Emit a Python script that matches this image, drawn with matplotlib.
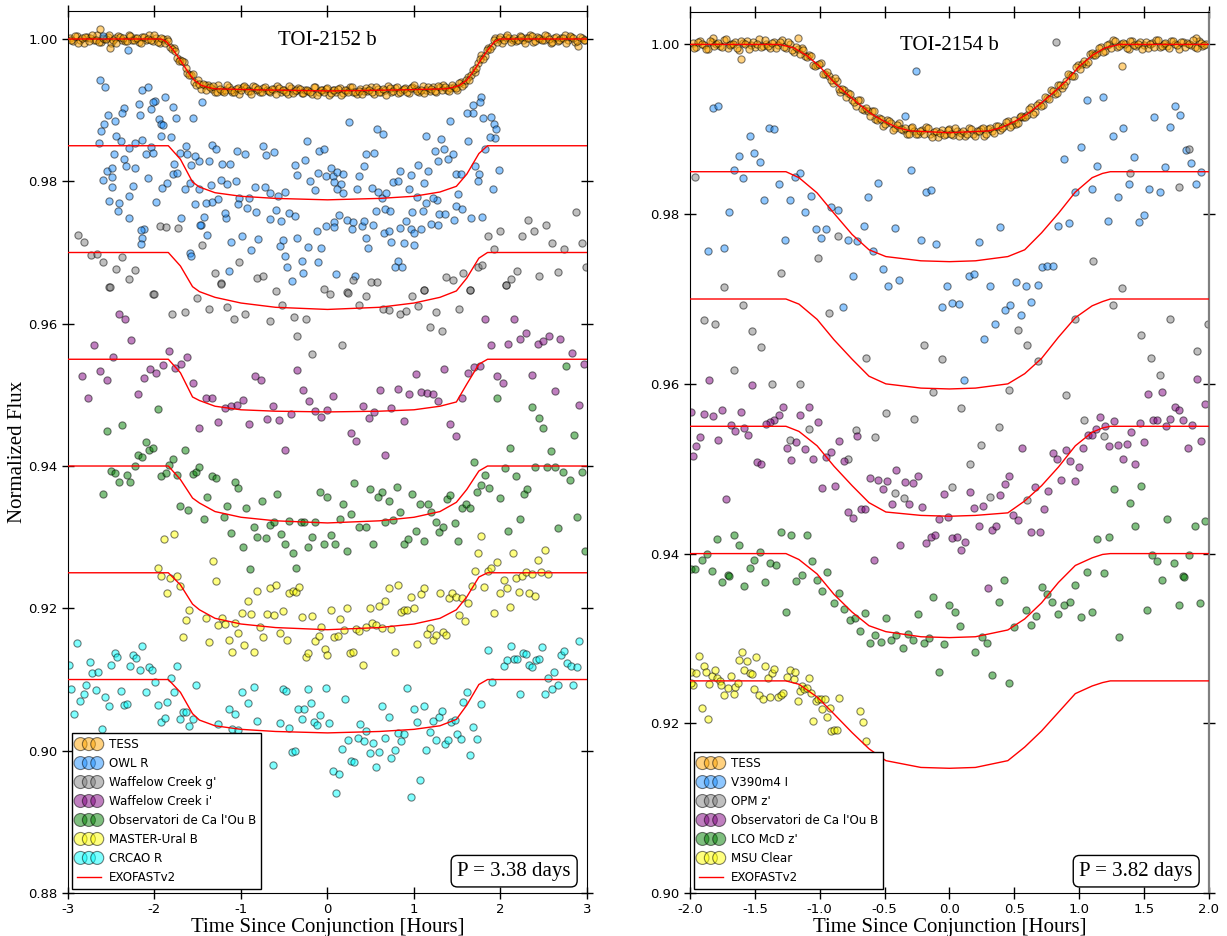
import numpy as np
import matplotlib.pyplot as plt

# ---------------- TOI-2152 b (left panel) ----------------
tess_l = [(-2.98,1.0002),(-2.94,0.9997),(-2.90,1.0004),(-2.86,0.9999),(-2.82,0.9995),(-2.78,1.0003),(-2.74,1.0001),(-2.70,0.9998),(-2.66,1.0005),(-2.62,0.9996),(-2.58,1.0000),(-2.54,1.0003),(-2.50,0.9994),(-2.46,1.0002),(-2.42,1.0004),(-2.38,0.9999),(-2.34,0.9997),(-2.30,1.0006),(-2.26,0.9998),(-2.22,1.0001),(-2.18,0.9996),(-2.14,1.0003),(-2.10,0.9999),(-2.06,1.0005),(-2.02,0.9997),(-1.98,1.0002),(-1.94,0.9995),(-1.90,1.0000),(-1.86,1.0000),(-1.82,0.9989),(-1.78,0.9987),(-1.74,0.9973),(-1.70,0.9970),(-1.66,0.9968),(-1.62,0.9952),(-1.58,0.9949),(-1.54,0.9940),(-1.50,0.9942),(-1.46,0.9930),(-1.42,0.9935),(-1.38,0.9935),(-1.34,0.9930),(-1.30,0.9926),(-1.26,0.9935),(-1.22,0.9927),(-1.18,0.9929),(-1.14,0.9932),(-1.10,0.9926),(-1.06,0.9930),(-1.02,0.9923),(-0.98,0.9933),(-0.94,0.9931),(-0.90,0.9927),(-0.86,0.9934),(-0.82,0.9928),(-0.78,0.9925),(-0.74,0.9931),(-0.70,0.9928),(-0.66,0.9925),(-0.62,0.9930),(-0.58,0.9934),(-0.54,0.9926),(-0.50,0.9929),(-0.46,0.9923),(-0.42,0.9931),(-0.38,0.9927),(-0.34,0.9931),(-0.30,0.9924),(-0.26,0.9929),(-0.22,0.9927),(-0.18,0.9923),(-0.14,0.9932),(-0.10,0.9925),(-0.06,0.9928),(-0.02,0.9930),(0.02,0.9921),(0.06,0.9929),(0.10,0.9926),(0.14,0.9931),(0.18,0.9924),(0.22,0.9928),(0.26,0.9932),(0.30,0.9925),(0.34,0.9923),(0.38,0.9930),(0.42,0.9927),(0.46,0.9927),(0.50,0.9932),(0.54,0.9923),(0.58,0.9930),(0.62,0.9925),(0.66,0.9929),(0.70,0.9934),(0.74,0.9926),(0.78,0.9931),(0.82,0.9924),(0.86,0.9929),(0.90,0.9931),(0.94,0.9924),(0.98,0.9933),(1.02,0.9930),(1.06,0.9926),(1.10,0.9934),(1.14,0.9928),(1.18,0.9927),(1.22,0.9932),(1.26,0.9926),(1.30,0.9932),(1.34,0.9936),(1.38,0.9928),(1.42,0.9931),(1.46,0.9933),(1.50,0.9928),(1.54,0.9939),(1.58,0.9937),(1.62,0.9946),(1.66,0.9949),(1.70,0.9953),(1.74,0.9966),(1.78,0.9977),(1.82,0.9976),(1.86,0.9987),(1.90,0.9990),(1.94,1.0001),(1.98,1.0000),(2.02,0.9995),(2.06,1.0003),(2.10,1.0002),(2.14,0.9999),(2.18,0.9997),(2.22,1.0004),(2.26,0.9998),(2.30,1.0001),(2.34,1.0005),(2.38,0.9996),(2.42,1.0003),(2.46,1.0000),(2.50,0.9998),(2.54,1.0004),(2.58,0.9995),(2.62,1.0002),(2.66,0.9997),(2.70,1.0001),(2.74,1.0006),(2.78,0.9999),(2.82,1.0003),(2.86,0.9996),(2.90,0.9990),(2.94,1.0002),(2.98,0.9999),(-2.63,1.0014),(-2.51,0.9987),
          (-2.96,0.9998),(-2.92,1.0004),(-2.88,0.9995),(-2.84,1.0001),(-2.80,1.0003),(-2.76,0.9997),(-2.72,1.0006),(-2.68,0.9999),(-2.64,0.9996),(-2.60,1.0002),(-2.56,1.0000),(-2.52,1.0005),(-2.48,0.9998),(-2.44,0.9994),(-2.40,1.0003),(-2.36,1.0001),(-2.32,0.9997),(-2.28,1.0004),(-2.24,0.9999),(-2.20,1.0002),(-2.16,0.9995),(-2.12,1.0003),(-2.08,1.0000),(-2.04,0.9998),(-2.00,1.0006),(-1.96,0.9996),(-1.92,1.0001),(-1.88,0.9995),(-1.84,0.9997),(-1.80,0.9986),(-1.76,0.9983),(-1.72,0.9969),(-1.68,0.9969),(-1.64,0.9959),(-1.60,0.9950),(-1.56,0.9951),(-1.52,0.9936),(-1.48,0.9937),(-1.44,0.9937),(-1.40,0.9929),(-1.36,0.9933),(-1.32,0.9934),(-1.28,0.9925),(-1.24,0.9930),(-1.20,0.9926),(-1.16,0.9935),(-1.12,0.9928),(-1.08,0.9925),(-1.04,0.9931),(-1.00,0.9929),(-0.96,0.9934),(-0.92,0.9927),(-0.88,0.9923),(-0.84,0.9932),(-0.80,0.9930),(-0.76,0.9925),(-0.72,0.9932),(-0.68,0.9927),(-0.64,0.9930),(-0.60,0.9923),(-0.56,0.9931),(-0.52,0.9928),(-0.48,0.9926),(-0.44,0.9934),(-0.40,0.9924),(-0.36,0.9928),(-0.32,0.9930),(-0.28,0.9924),(-0.24,0.9929),(-0.20,0.9926),(-0.16,0.9932),(-0.12,0.9921),(-0.08,0.9929),(-0.04,0.9925),(0.00,0.9931),(0.04,0.9924),(0.08,0.9928),(0.12,0.9930),(0.16,0.9922),(0.20,0.9929),(0.24,0.9926),(0.28,0.9933),(0.32,0.9925),(0.36,0.9927),(0.40,0.9923),(0.44,0.9931),(0.48,0.9929),(0.52,0.9925),(0.56,0.9933),(0.60,0.9926),(0.64,0.9930),(0.68,0.9922),(0.72,0.9931),(0.76,0.9927),(0.80,0.9932),(0.84,0.9926),(0.88,0.9930),(0.92,0.9925),(0.96,0.9931),(1.00,0.9935),(1.04,0.9927),(1.08,0.9929),(1.12,0.9924),(1.16,0.9932),(1.20,0.9930),(1.24,0.9927),(1.28,0.9934),(1.32,0.9928),(1.36,0.9932),(1.40,0.9927),(1.44,0.9935),(1.48,0.9931),(1.52,0.9938),(1.56,0.9934),(1.60,0.9943),(1.64,0.9943),(1.68,0.9956),(1.72,0.9959),(1.76,0.9972),(1.80,0.9972),(1.84,0.9985),(1.88,0.9986),(1.92,0.9998),(1.96,0.9996),(2.00,1.0003),(2.04,0.9998),(2.08,1.0005),(2.12,0.9996),(2.16,1.0001),(2.20,0.9999),(2.24,1.0003),(2.28,0.9994),(2.32,1.0002),(2.36,1.0004),(2.40,0.9997),(2.44,1.0001),(2.48,0.9998),(2.52,1.0005),(2.56,1.0000),(2.60,0.9996),(2.64,1.0003),(2.68,0.9999),(2.72,1.0002),(2.76,0.9995),(2.80,1.0004),(2.84,1.0001),(2.88,0.9997),(2.92,1.0003),(2.96,0.9998)]

owl_r = [(-2.59,1.0004),(-2.31,0.9984),(-2.63,0.9942),(-2.57,0.9933),(-2.15,0.9929),(-2.08,0.9932),(-1.88,0.9919),(-1.99,0.9913),(-2.02,0.9912),(-2.18,0.9909),(-2.35,0.9903),(-2.37,0.9896),(-2.54,0.9893),(-2.58,0.9881),(-2.62,0.9871),(-2.46,0.9885),(-2.17,0.9893),(-2.04,0.9901),(-1.95,0.9888),(-1.92,0.9881),(-1.90,0.9879),(-1.75,0.9889),(-1.79,0.9905),(-1.56,0.9889),(-1.45,0.9911),(-1.93,0.9864),(-1.81,0.9862),(-2.45,0.9864),(-2.39,0.9856),(-2.64,0.9854),(-2.29,0.9847),(-2.22,0.9854),(-2.14,0.9858),(-2.04,0.9848),(-2.47,0.9838),(-2.35,0.9831),(-2.33,0.9822),(-2.22,0.9819),(-2.10,0.9838),(-2.02,0.9840),(-2.55,0.9814),(-2.49,0.9819),(-2.60,0.9802),(-2.49,0.9806),(-2.49,0.9792),(-2.25,0.9793),(-2.07,0.9805),(-2.53,0.9773),(-2.41,0.9770),(-2.42,0.9758),(-2.30,0.9779),(-2.29,0.9749),(-1.98,0.9771),(-1.91,0.9790),(-1.86,0.9798),(-1.79,0.9811),(-1.74,0.9812),(-1.77,0.9824),(-1.70,0.9840),(-1.62,0.9838),(-1.64,0.9850),(-1.58,0.9823),(-1.49,0.9828),(-1.53,0.9836),(-1.33,0.9851),(-1.29,0.9845),(-1.37,0.9828),(-1.22,0.9825),(-1.13,0.9824),(-1.05,0.9843),(-0.95,0.9839),(-0.75,0.9850),(-0.71,0.9837),(-0.62,0.9841),(-1.59,0.9798),(-1.65,0.9789),(-1.48,0.9789),(-1.35,0.9795),(-1.23,0.9802),(-1.16,0.9796),(-1.06,0.9801),(-0.84,0.9792),(-0.72,0.9792),(-0.91,0.9776),(-1.02,0.9777),(-1.03,0.9768),(-1.27,0.9775),(-1.34,0.9771),(-1.53,0.9768),(-1.40,0.9770),(-1.43,0.9750),(-1.46,0.9738),(-1.17,0.9749),(-1.19,0.9756),(-0.93,0.9763),(-0.83,0.9757),(-0.66,0.9783),(-0.57,0.9780),(-0.49,0.9785),(-0.59,0.9760),(-0.67,0.9747),(-0.54,0.9744),(-0.45,0.9756),(-0.38,0.9751),(-0.35,0.9809),(-0.37,0.9823),(-0.26,0.9830),(-0.24,0.9857),(-0.10,0.9843),(-0.04,0.9846),(-0.11,0.9812),(-0.20,0.9800),(-0.14,0.9788),(-0.02,0.9808),(0.04,0.9819),(0.06,0.9807),(0.11,0.9813),(0.08,0.9799),(0.18,0.9810),(0.16,0.9796),(0.11,0.9789),(0.18,0.9784),(0.34,0.9789),(0.37,0.9808),(0.42,0.9822),(0.44,0.9839),(0.54,0.9840),(0.51,0.9791),(0.58,0.9785),(0.63,0.9776),(0.68,0.9783),(0.76,0.9799),(0.82,0.9800),(0.84,0.9814),(0.94,0.9789),(0.96,0.9809),(1.05,0.9823),(1.16,0.9814),(1.12,0.9798),(1.24,0.9843),(1.28,0.9828),(1.31,0.9860),(1.35,0.9845),(1.39,0.9831),(1.45,0.9838),(1.14,0.9863),(1.49,0.9810),(1.54,0.9810),(1.51,0.9782),(1.62,0.9857),(1.71,0.9822),(1.75,0.9810),(1.74,0.9800),(1.68,0.9896),(1.61,0.9896),(1.68,0.9907),(1.78,0.9919),(1.76,0.9912),(1.80,0.9889),(1.89,0.9890),(1.92,0.9881),(1.95,0.9873),(1.94,0.9861),(1.88,0.9862),(1.82,0.9846),(1.91,0.9789),(1.98,0.9816),(1.42,0.9885),(0.25,0.9884),(0.57,0.9874),(0.64,0.9867),(1.79,0.9750),(1.66,0.9749),(-1.69,0.9748),(-1.47,0.9739),(-1.39,0.9724),(-1.12,0.9715),(-0.99,0.9723),(-0.80,0.9719),(-0.88,0.9704),(-0.55,0.9709),(-0.51,0.9718),(-0.35,0.9720),(-0.23,0.9708),(-0.07,0.9706),(-0.12,0.9730),(-0.02,0.9737),(0.07,0.9743),(0.13,0.9752),(0.08,0.9736),(0.23,0.9746),(0.30,0.9743),(0.28,0.9733),(0.40,0.9737),(0.42,0.9744),(0.53,0.9738),(0.47,0.9706),(0.45,0.9721),(0.56,0.9758),(0.66,0.9761),(0.72,0.9758),(0.65,0.9727),(0.71,0.9730),(0.74,0.9715),(0.84,0.9734),(0.89,0.9713),(0.91,0.9744),(0.96,0.9733),(1.00,0.9728),(1.08,0.9733),(1.00,0.9711),(1.10,0.9758),(0.98,0.9757),(1.20,0.9740),(1.28,0.9738),(1.29,0.9754),(1.36,0.9754),(1.46,0.9746),(1.27,0.9774),(1.14,0.9769),(1.03,0.9778),(1.22,0.9777),(1.48,0.9766),(1.56,0.9761),(-2.12,0.9733),(-2.16,0.9731),(-2.14,0.9720),(-2.16,0.9712),(-1.59,0.9700),(-1.58,0.9695),(0.82,0.9688),(0.78,0.9680),(0.86,0.9680),(-0.49,0.9695),(-0.29,0.9688),(-0.28,0.9671),(-0.11,0.9687),(-0.47,0.9679),(-0.41,0.9660),(0.10,0.9670),(0.32,0.9667),(-1.14,0.9674)]

waffelow_g = [(-2.88,0.9725),(-2.81,0.9715),(-2.73,0.9696),(-2.66,0.9698),(-2.59,0.9687),(-2.52,0.9652),(-2.44,0.9677),(-2.37,0.9694),(-2.30,0.9663),(-2.23,0.9675),(-2.02,0.9641),(-1.94,0.9737),(-1.87,0.9736),(-1.73,0.9735),(-1.45,0.9711),(-1.30,0.9671),(-1.23,0.9657),(-1.02,0.9687),(-0.81,0.9664),(-0.74,0.9667),(-0.04,0.9649),(0.03,0.9642),(0.23,0.9644),(0.30,0.9662),(0.50,0.9659),(0.57,0.9659),(1.11,0.9648),(1.37,0.9665),(1.45,0.9662),(1.57,0.9671),(1.65,0.9648),(1.74,0.9679),(1.79,0.9682),(1.85,0.9723),(1.92,0.9705),(1.99,0.9730),(2.06,0.9655),(2.12,0.9663),(2.19,0.9674),(2.25,0.9723),(2.32,0.9746),(2.39,0.9730),(2.45,0.9667),(2.53,0.9739),(2.59,0.9713),(2.66,0.9672),(2.73,0.9705),(2.87,0.9757),(2.94,0.9714),(2.99,0.9679),(-2.51,0.9652),(-2.01,0.9641),(-1.80,0.9614),(-1.65,0.9617),(-1.51,0.9636),(-1.37,0.9621),(-1.23,0.9656),(-1.16,0.9623),(-1.08,0.9606),(-0.95,0.9613),(-0.67,0.9604),(-0.60,0.9646),(-0.53,0.9626),(-0.39,0.9610),(-0.35,0.9583),(-0.25,0.9606),(-0.18,0.9557),(0.17,0.9570),(0.24,0.9643),(0.37,0.9626),(0.44,0.9639),(0.64,0.9621),(0.71,0.9619),(0.84,0.9614),(0.91,0.9618),(0.98,0.9639),(1.05,0.9625),(1.12,0.9647),(1.18,0.9596),(1.25,0.9617),(1.32,0.9590),(1.52,0.9620),(1.65,0.9648),(2.06,0.9654)]

waffelow_i = [(-2.84,0.9526),(-2.77,0.9496),(-2.70,0.9570),(-2.63,0.9533),(-2.55,0.9521),(-2.48,0.9553),(-2.41,0.9614),(-2.34,0.9607),(-2.27,0.9577),(-2.19,0.9501),(-2.12,0.9524),(-2.05,0.9537),(-1.98,0.9530),(-1.90,0.9542),(-1.83,0.9561),(-1.76,0.9538),(-1.69,0.9543),(-1.62,0.9553),(-1.55,0.9517),(-1.48,0.9453),(-1.41,0.9495),(-1.34,0.9496),(-1.27,0.9462),(-1.19,0.9481),(-1.12,0.9484),(-1.05,0.9486),(-0.98,0.9493),(-0.91,0.9459),(-0.84,0.9526),(-0.77,0.9521),(-0.70,0.9466),(-0.63,0.9484),(-0.56,0.9464),(-0.49,0.9423),(-0.42,0.9473),(-0.35,0.9535),(-0.28,0.9507),(-0.21,0.9492),(-0.14,0.9477),(-0.07,0.9469),(0.00,0.9478),(0.06,0.9498),(0.27,0.9447),(0.33,0.9435),(0.41,0.9485),(0.48,0.9467),(0.54,0.9476),(0.61,0.9507),(0.67,0.9416),(0.74,0.9482),(0.81,0.9508),(0.88,0.9463),(0.94,0.9501),(1.02,0.9529),(1.08,0.9504),(1.15,0.9502),(1.22,0.9501),(1.28,0.9492),(1.35,0.9537),(1.42,0.9459),(1.49,0.9442),(1.55,0.9495),(1.62,0.9530),(1.69,0.9539),(1.76,0.9540),(1.82,0.9606),(1.89,0.9570),(1.96,0.9527),(2.03,0.9517),(2.09,0.9571),(2.16,0.9606),(2.23,0.9578),(2.29,0.9587),(2.36,0.9528),(2.43,0.9572),(2.49,0.9576),(2.56,0.9582),(2.63,0.9505),(2.69,0.9579),(2.83,0.9559),(2.91,0.9486),(2.97,0.9543)]

caou_l = [(-1.96,0.9480),(-2.55,0.9449),(-2.37,0.9457),(-2.10,0.9434),(-2.19,0.9415),(-2.15,0.9413),(-2.06,0.9423),(-2.02,0.9426),(-1.65,0.9423),(-1.79,0.9410),(-1.83,0.9402),(-2.23,0.9400),(-2.50,0.9393),(-2.46,0.9390),(-2.32,0.9387),(-2.41,0.9377),(-2.28,0.9377),(-2.59,0.9360),(-1.92,0.9386),(-1.87,0.9390),(-1.74,0.9388),(-1.56,0.9389),(-1.52,0.9392),(-1.48,0.9398),(-1.34,0.9386),(-1.29,0.9383),(-1.07,0.9378),(-1.03,0.9369),(-1.39,0.9356),(-1.70,0.9344),(-1.61,0.9338),(-1.43,0.9325),(-1.16,0.9344),(-1.20,0.9328),(-0.94,0.9341),(-1.12,0.9306),(-0.98,0.9286),(-0.89,0.9255),(-0.85,0.9315),(-0.81,0.9300),(-0.71,0.9299),(-0.76,0.9351),(-0.67,0.9317),(-0.62,0.9322),(-0.58,0.9361),(-0.54,0.9304),(-0.49,0.9291),(-0.45,0.9323),(-0.40,0.9278),(-0.36,0.9257),(-0.31,0.9321),(-0.27,0.9321),(-0.23,0.9286),(-0.18,0.9300),(-0.14,0.9321),(-0.09,0.9363),(-0.04,0.9290),(0.00,0.9357),(0.04,0.9303),(0.09,0.9291),(0.14,0.9326),(0.18,0.9346),(0.22,0.9280),(0.27,0.9333),(0.31,0.9376),(0.36,0.9314),(0.44,0.9314),(0.49,0.9367),(0.53,0.9290),(0.58,0.9357),(0.63,0.9364),(0.67,0.9321),(0.71,0.9351),(0.76,0.9324),(0.80,0.9371),(0.84,0.9336),(0.89,0.9291),(0.93,0.9298),(0.98,0.9360),(1.02,0.9309),(1.07,0.9347),(1.11,0.9294),(1.16,0.9347),(1.20,0.9336),(1.25,0.9322),(1.29,0.9307),(1.33,0.9314),(1.38,0.9353),(1.42,0.9359),(1.47,0.9320),(1.51,0.9295),(1.56,0.9341),(1.60,0.9347),(1.65,0.9341),(1.69,0.9406),(1.73,0.9363),(1.78,0.9373),(1.82,0.9388),(1.87,0.9369),(1.96,0.9495),(2.00,0.9355),(2.05,0.9397),(2.09,0.9308),(2.11,0.9426),(2.18,0.9386),(2.22,0.9326),(2.27,0.9360),(2.31,0.9367),(2.36,0.9483),(2.40,0.9399),(2.45,0.9467),(2.49,0.9453),(2.54,0.9399),(2.58,0.9421),(2.63,0.9399),(2.67,0.9313),(2.72,0.9391),(2.76,0.9540),(2.80,0.9381),(2.85,0.9443),(2.89,0.9328),(2.94,0.9392),(2.98,0.9281)]

master_b = [(-1.89,0.9298),(-1.78,0.9304),(-1.32,0.9266),(1.77,0.9302),(1.74,0.9278),(2.14,0.9278),(2.51,0.9282),(2.43,0.9268),(1.96,0.9265),(-1.96,0.9256),(-1.93,0.9246),(-1.82,0.9243),(-1.74,0.9246),(-1.71,0.9232),(-1.85,0.9221),(-1.29,0.9238),(-1.60,0.9197),(-1.63,0.9183),(-1.67,0.9160),(-1.41,0.9187),(-1.37,0.9153),(-1.26,0.9176),(-1.22,0.9187),(-1.18,0.9178),(-1.14,0.9155),(-1.10,0.9138),(-1.07,0.9180),(-1.03,0.9165),(-0.99,0.9194),(-0.96,0.9149),(-0.92,0.9210),(-0.88,0.9192),(-0.85,0.9138),(-0.81,0.9224),(-0.78,0.9174),(-0.74,0.9160),(-0.70,0.9192),(-0.66,0.9229),(-0.62,0.9190),(-0.59,0.9233),(-0.55,0.9165),(-0.51,0.9196),(-0.47,0.9155),(-0.44,0.9221),(-0.40,0.9224),(-0.36,0.9223),(-0.33,0.9230),(-0.29,0.9188),(-0.25,0.9132),(-0.22,0.9137),(-0.18,0.9189),(-0.14,0.9154),(-0.10,0.9161),(-0.07,0.9174),(-0.03,0.9143),(0.00,0.9134),(0.04,0.9197),(0.08,0.9160),(0.12,0.9161),(0.15,0.9185),(0.19,0.9170),(0.22,0.9200),(0.26,0.9137),(0.30,0.9138),(0.33,0.9171),(0.37,0.9168),(0.41,0.9121),(0.45,0.9174),(0.49,0.9200),(0.52,0.9179),(0.56,0.9177),(0.59,0.9204),(0.63,0.9173),(0.67,0.9210),(0.71,0.9229),(0.74,0.9171),(0.78,0.9138),(0.82,0.9233),(0.85,0.9195),(0.89,0.9198),(0.92,0.9198),(0.96,0.9216),(1.00,0.9200),(1.04,0.9150),(1.08,0.9220),(1.11,0.9229),(1.15,0.9164),(1.18,0.9173),(1.22,0.9156),(1.26,0.9162),(1.30,0.9222),(1.33,0.9167),(1.37,0.9162),(1.41,0.9214),(1.44,0.9221),(1.48,0.9216),(1.52,0.9191),(1.56,0.9214),(1.59,0.9182),(1.63,0.9208),(1.67,0.9232),(1.70,0.9252),(1.81,0.9230),(1.85,0.9252),(1.89,0.9257),(1.93,0.9193),(2.00,0.9221),(2.04,0.9240),(2.07,0.9228),(2.11,0.9202),(2.18,0.9243),(2.21,0.9223),(2.25,0.9246),(2.29,0.9251),(2.33,0.9221),(2.36,0.9248),(2.40,0.9218),(2.47,0.9251),(2.55,0.9248)]

crcao_r = [(-2.99,0.9120),(-2.90,0.9151),(-2.97,0.9087),(-2.93,0.9051),(-2.86,0.9070),(-2.82,0.9079),(-2.79,0.9093),(-2.75,0.9124),(-2.72,0.9109),(-2.68,0.9085),(-2.65,0.9110),(-2.61,0.9030),(-2.57,0.9075),(-2.53,0.9063),(-2.50,0.9121),(-2.46,0.9137),(-2.43,0.9131),(-2.39,0.9084),(-2.35,0.9064),(-2.32,0.9066),(-2.28,0.9119),(-2.25,0.9134),(-2.21,0.9130),(-2.17,0.9113),(-2.14,0.9147),(-2.10,0.9082),(-2.06,0.9117),(-2.03,0.9113),(-1.99,0.9097),(-1.96,0.9064),(-1.92,0.9040),(-1.88,0.9046),(-1.85,0.9069),(-1.81,0.9102),(-1.78,0.9083),(-1.74,0.9119),(-1.71,0.9044),(-1.67,0.9054),(-1.63,0.9054),(-1.60,0.9034),(-1.56,0.9045),(-1.52,0.9093),(-1.27,0.9037),(-1.14,0.9058),(-1.10,0.9030),(-1.07,0.9052),(-1.03,0.9029),(-0.99,0.9082),(-0.95,0.9016),(-0.92,0.9067),(-0.85,0.9089),(-0.81,0.9042),(-0.63,0.8980),(-0.55,0.9039),(-0.52,0.9086),(-0.48,0.9084),(-0.45,0.9032),(-0.41,0.8998),(-0.37,0.9000),(-0.34,0.9059),(-0.30,0.9044),(-0.27,0.9058),(-0.23,0.9086),(-0.19,0.9067),(-0.16,0.9041),(-0.12,0.9036),(-0.09,0.9050),(-0.02,0.9088),(0.02,0.9039),(0.06,0.8972),(0.10,0.8940),(0.13,0.8967),(0.17,0.9002),(0.20,0.9072),(0.24,0.9015),(0.27,0.8985),(0.31,0.8984),(0.35,0.9018),(0.38,0.9038),(0.42,0.9013),(0.45,0.9028),(0.49,0.8997),(0.53,0.9011),(0.56,0.8977),(0.60,0.8998),(0.63,0.9063),(0.67,0.9018),(0.71,0.9048),(0.74,0.8990),(0.78,0.9001),(0.82,0.9025),(0.85,0.9013),(0.89,0.9024),(0.92,0.9088),(0.96,0.8935),(1.00,0.9058),(1.04,0.9041),(1.07,0.8959),(1.11,0.9063),(1.14,0.9001),(1.18,0.9026),(1.22,0.9042),(1.25,0.9015),(1.29,0.9048),(1.32,0.9056),(1.36,0.9009),(1.39,0.9015),(1.43,0.9041),(1.47,0.9043),(1.50,0.9024),(1.54,0.9016),(1.57,0.9069),(1.61,0.9083),(1.65,0.8994),(1.68,0.9033),(1.73,0.9017),(1.77,0.9065),(1.86,0.9142),(1.90,0.9097),(2.04,0.9119),(2.08,0.9128),(2.12,0.9147),(2.16,0.9129),(2.19,0.9129),(2.23,0.9079),(2.26,0.9137),(2.30,0.9136),(2.33,0.9121),(2.37,0.9117),(2.41,0.9128),(2.44,0.9129),(2.48,0.9146),(2.52,0.9080),(2.55,0.9102),(2.59,0.9087),(2.62,0.9110),(2.66,0.9093),(2.70,0.9134),(2.73,0.9140),(2.77,0.9123),(2.81,0.9119),(2.84,0.9093),(2.88,0.9117),(2.91,0.9154)]

# EXOFASTv2 model curves, left panel
model_tess_l_t = [-3.0, -1.92, -1.86, -1.78, -1.70, -1.62, -1.54, -1.46, -1.38, -1.30, -0.80, 0.035,
                  0.87, 1.37, 1.45, 1.53, 1.61, 1.69, 1.77, 1.85, 1.93, 1.99, 3.0]
model_tess_l_f = [1.0, 1.0, 0.9996, 0.9984, 0.9970, 0.9955, 0.9942, 0.9935, 0.9932, 0.9930, 0.99285, 0.9927,
                  0.99285, 0.9930, 0.9932, 0.9935, 0.9942, 0.9955, 0.9970, 0.9984, 0.9996, 1.0, 1.0]
model_gnd_l_t = [-3.0, -1.84, -1.70, -1.56, -1.48, -1.30, -1.00, -0.60, 0.0, 0.60, 1.00, 1.30, 1.49, 1.61, 1.75, 1.85, 3.0]
model_owl_f = [0.9850, 0.9850, 0.9831, 0.9799, 0.9792, 0.9784, 0.9779, 0.9776, 0.9774, 0.9776, 0.9779, 0.9785, 0.9793, 0.9810, 0.9839, 0.9850, 0.9850]
model_wg_f = [0.9700, 0.9700, 0.9681, 0.9652, 0.9645, 0.9637, 0.9629, 0.9623, 0.9620, 0.9623, 0.9629, 0.9637, 0.9646, 0.9664, 0.9692, 0.9700, 0.9700]
model_wi_f = [0.9550, 0.9550, 0.9531, 0.9497, 0.9492, 0.9484, 0.9479, 0.9477, 0.9476, 0.9477, 0.9479, 0.9484, 0.9490, 0.9515, 0.9543, 0.9550, 0.9550]
model_caou_l_f = [0.9400, 0.9400, 0.9381, 0.9355, 0.9348, 0.9336, 0.9328, 0.9323, 0.9320, 0.9323, 0.9328, 0.9336, 0.9349, 0.9367, 0.9393, 0.9400, 0.9400]
model_master_f = [0.9250, 0.9250, 0.9233, 0.9206, 0.9198, 0.9186, 0.9178, 0.9173, 0.9170, 0.9173, 0.9178, 0.9186, 0.9198, 0.9216, 0.9244, 0.9250, 0.9250]
model_crcao_f = [0.9100, 0.9100, 0.9082, 0.9052, 0.9043, 0.9035, 0.9030, 0.9027, 0.9025, 0.9027, 0.9030, 0.9035, 0.9044, 0.9064, 0.9093, 0.9100, 0.9100]

# ---------------- TOI-2154 b (right panel) ----------------
tess_r = [(-1.98,1.0002),(-1.95,0.9997),(-1.92,1.0004),(-1.89,0.9999),(-1.86,0.9995),(-1.83,1.0003),(-1.80,1.0001),(-1.77,0.9998),(-1.74,1.0005),(-1.71,0.9996),(-1.68,1.0000),(-1.65,1.0003),(-1.62,0.9994),(-1.59,1.0002),(-1.56,1.0004),(-1.53,0.9999),(-1.50,0.9997),(-1.47,1.0006),(-1.44,0.9998),(-1.41,1.0001),(-1.38,0.9996),(-1.35,1.0003),(-1.32,0.9999),(-1.29,1.0005),(-1.26,0.9996),(-1.23,1.0000),(-1.20,0.9991),(-1.17,0.9995),(-1.14,0.9996),(-1.11,0.9986),(-1.08,0.9987),(-1.05,0.9976),(-1.02,0.9976),(-0.99,0.9978),(-0.96,0.9965),(-0.93,0.9963),(-0.90,0.9955),(-0.87,0.9957),(-0.84,0.9944),(-0.81,0.9946),(-0.78,0.9943),(-0.75,0.9935),(-0.72,0.9928),(-0.69,0.9934),(-0.66,0.9923),(-0.63,0.9922),(-0.60,0.9921),(-0.57,0.9912),(-0.54,0.9913),(-0.51,0.9904),(-0.48,0.9911),(-0.45,0.9907),(-0.42,0.9901),(-0.39,0.9907),(-0.36,0.9899),(-0.33,0.9895),(-0.30,0.9901),(-0.27,0.9898),(-0.24,0.9894),(-0.21,0.9899),(-0.18,0.9903),(-0.15,0.9894),(-0.12,0.9897),(-0.09,0.9891),(-0.06,0.9899),(-0.03,0.9895),(0.00,0.9900),(0.03,0.9893),(0.06,0.9898),(0.09,0.9896),(0.12,0.9892),(0.15,0.9901),(0.18,0.9895),(0.21,0.9898),(0.24,0.9900),(0.27,0.9892),(0.30,0.9900),(0.33,0.9898),(0.36,0.9904),(0.39,0.9899),(0.42,0.9904),(0.45,0.9910),(0.48,0.9905),(0.51,0.9906),(0.54,0.9915),(0.57,0.9915),(0.60,0.9917),(0.63,0.9926),(0.66,0.9920),(0.69,0.9931),(0.72,0.9929),(0.75,0.9937),(0.78,0.9946),(0.81,0.9942),(0.84,0.9952),(0.87,0.9949),(0.90,0.9957),(0.93,0.9964),(0.96,0.9963),(0.99,0.9976),(1.02,0.9977),(1.05,0.9977),(1.08,0.9989),(1.11,0.9987),(1.14,0.9990),(1.17,0.9997),(1.20,0.9992),(1.23,1.0000),(1.26,1.0005),(1.29,0.9997),(1.32,1.0000),(1.35,1.0001),(1.38,0.9995),(1.41,1.0004),(1.44,0.9998),(1.47,1.0003),(1.50,0.9999),(1.53,0.9996),(1.56,1.0002),(1.59,1.0005),(1.62,0.9997),(1.65,1.0001),(1.68,0.9998),(1.71,1.0004),(1.74,1.0000),(1.77,0.9995),(1.80,1.0003),(1.83,1.0002),(1.86,0.9999),(1.89,0.9997),(1.92,1.0004),(1.95,0.9998),(1.98,1.0001),(1.33,0.9975),(-1.61,0.9983),(-1.17,1.0007),(1.90,1.0008),(-1.82,1.0007),
          (-1.965,0.9996),(-1.935,1.0003),(-1.905,1.0000),(-1.875,0.9995),(-1.845,1.0004),(-1.815,0.9998),(-1.785,1.0002),(-1.755,0.9997),(-1.725,1.0006),(-1.695,0.9999),(-1.665,1.0001),(-1.635,0.9996),(-1.605,1.0004),(-1.575,1.0000),(-1.545,0.9995),(-1.515,1.0003),(-1.485,1.0001),(-1.455,0.9997),(-1.425,1.0005),(-1.395,0.9998),(-1.365,1.0002),(-1.335,0.9996),(-1.305,1.0003),(-1.275,0.9997),(-1.245,1.0003),(-1.215,0.9994),(-1.185,0.9997),(-1.155,0.9989),(-1.125,0.9993),(-1.095,0.9985),(-1.065,0.9986),(-1.035,0.9975),(-1.005,0.9977),(-0.975,0.9965),(-0.945,0.9968),(-0.915,0.9958),(-0.885,0.9960),(-0.855,0.9948),(-0.825,0.9948),(-0.795,0.9938),(-0.765,0.9941),(-0.735,0.9932),(-0.705,0.9935),(-0.675,0.9924),(-0.645,0.9925),(-0.615,0.9916),(-0.585,0.9921),(-0.555,0.9911),(-0.525,0.9912),(-0.495,0.9906),(-0.465,0.9910),(-0.435,0.9899),(-0.405,0.9905),(-0.375,0.9900),(-0.345,0.9902),(-0.315,0.9895),(-0.285,0.9903),(-0.255,0.9895),(-0.225,0.9898),(-0.195,0.9895),(-0.165,0.9901),(-0.135,0.9891),(-0.105,0.9898),(-0.075,0.9896),(-0.045,0.9893),(-0.015,0.9899),(0.015,0.9895),(0.045,0.9901),(0.075,0.9892),(0.105,0.9898),(0.135,0.9894),(0.165,0.9900),(0.195,0.9892),(0.225,0.9898),(0.255,0.9902),(0.285,0.9895),(0.315,0.9901),(0.345,0.9896),(0.375,0.9904),(0.405,0.9901),(0.435,0.9909),(0.465,0.9903),(0.495,0.9911),(0.525,0.9907),(0.555,0.9916),(0.585,0.9914),(0.615,0.9924),(0.645,0.9918),(0.675,0.9929),(0.705,0.9928),(0.735,0.9938),(0.765,0.9936),(0.795,0.9945),(0.825,0.9943),(0.855,0.9952),(0.885,0.9952),(0.915,0.9965),(0.945,0.9963),(0.975,0.9973),(1.005,0.9971),(1.035,0.9980),(1.065,0.9979),(1.095,0.9990),(1.125,0.9988),(1.155,0.9996),(1.185,0.9991),(1.215,0.9999),(1.245,0.9996),(1.275,1.0004),(1.305,0.9998),(1.335,1.0002),(1.365,0.9996),(1.395,1.0004),(1.425,0.9999),(1.455,1.0001),(1.485,0.9995),(1.515,1.0003),(1.545,1.0000),(1.575,0.9997),(1.605,1.0005),(1.635,0.9998),(1.665,1.0002),(1.695,0.9996),(1.725,1.0004),(1.755,0.9999),(1.785,1.0003),(1.815,0.9997),(1.845,1.0001),(1.875,1.0005),(1.905,0.9996),(1.935,1.0002),(1.965,0.9999)]

v390m4_i = [(-0.26,0.9969),(-1.82,0.9925),(-1.78,0.9927),(-1.39,0.9901),(-1.35,0.9900),(-1.54,0.9892),(-1.62,0.9869),(-1.51,0.9872),(-1.46,0.9861),(-1.66,0.9852),(-1.59,0.9842),(-0.34,0.9916),(-0.30,0.9852),(-0.55,0.9837),(-0.63,0.9820),(-0.18,0.9826),(-0.14,0.9828),(-1.15,0.9849),(-1.19,0.9844),(-1.31,0.9836),(-1.43,0.9817),(-1.23,0.9817),(-1.07,0.9821),(-1.70,0.9802),(-1.11,0.9802),(-0.91,0.9808),(-0.86,0.9805),(-1.03,0.9782),(-0.99,0.9772),(-0.95,0.9782),(-1.27,0.9770),(-0.78,0.9770),(-0.71,0.9768),(-0.66,0.9786),(-0.59,0.9757),(-0.42,0.9784),(-0.22,0.9769),(-0.10,0.9765),(0.23,0.9767),(0.39,0.9785),(-1.86,0.9757),(-1.74,0.9760),(-0.74,0.9727),(-0.51,0.9735),(-0.47,0.9715),(-0.39,0.9722),(-0.02,0.9715),(0.15,0.9727),(0.19,0.9730),(0.31,0.9715),(0.51,0.9720),(0.59,0.9715),(0.68,0.9716),(0.71,0.9738),(0.75,0.9739),(0.80,0.9739),(0.84,0.9786),(0.92,0.9789),(0.97,0.9826),(0.88,0.9865),(1.01,0.9879),(1.06,0.9935),(1.18,0.9938),(1.14,0.9857),(1.10,0.9830),(1.22,0.9792),(1.26,0.9892),(1.30,0.9820),(1.34,0.9901),(1.38,0.9835),(1.42,0.9867),(1.46,0.9791),(1.50,0.9799),(1.54,0.9830),(1.58,0.9914),(1.62,0.9826),(1.66,0.9856),(1.70,0.9903),(1.74,0.9928),(1.78,0.9917),(1.82,0.9875),(1.86,0.9860),(1.90,0.9835),(1.94,0.9850),(-0.82,0.9691),(-0.06,0.9691),(0.02,0.9695),(0.07,0.9694),(0.43,0.9687),(0.47,0.9693),(0.35,0.9671),(0.27,0.9653),(0.55,0.9681),(0.63,0.9696),(0.11,0.9605)]

opm_z = [(0.82,1.0003),(-1.96,0.9844),(-0.86,0.9774),(-1.01,0.9748),(-1.30,0.9731),(-1.74,0.9714),(1.11,0.9745),(1.33,0.9713),(1.39,0.9849),(1.77,0.9832),(1.85,0.9877),(-1.59,0.9693),(-1.89,0.9675),(-1.81,0.9671),(-1.52,0.9662),(-1.45,0.9643),(-1.66,0.9616),(-1.37,0.9600),(-1.15,0.9600),(-0.93,0.9684),(-0.64,0.9631),(-0.20,0.9646),(-0.06,0.9629),(-0.13,0.9591),(0.09,0.9571),(-0.49,0.9566),(-0.27,0.9559),(-0.72,0.9546),(-1.08,0.9547),(-1.23,0.9534),(-0.57,0.9537),(-0.78,0.9511),(-0.42,0.9471),(-0.35,0.9466),(0.02,0.9479),(0.16,0.9506),(0.24,0.9528),(0.31,0.9467),(0.38,0.9549),(0.46,0.9593),(0.53,0.9664),(0.60,0.9646),(0.68,0.9627),(0.90,0.9587),(0.97,0.9677),(1.04,0.9558),(1.19,0.9538),(1.26,0.9693),(1.48,0.9658),(1.55,0.9631),(1.62,0.9611),(1.70,0.9676),(1.91,0.9639),(1.99,0.9671),(0.60,0.9463)]

caou_r = [(-1.99,0.9567),(-1.85,0.9604),(-1.52,0.9599),(-1.89,0.9564),(-1.82,0.9562),(-1.75,0.9569),(-1.61,0.9567),(-1.28,0.9573),(-1.31,0.9563),(-1.35,0.9557),(-1.38,0.9555),(-1.41,0.9553),(-1.68,0.9551),(-1.58,0.9548),(-1.65,0.9544),(-1.55,0.9540),(-1.92,0.9537),(-1.78,0.9534),(-1.95,0.9527),(-1.98,0.9515),(-1.48,0.9508),(-1.45,0.9505),(-1.72,0.9464),(-1.15,0.9563),(-1.08,0.9573),(-1.01,0.9555),(-1.18,0.9532),(-1.25,0.9524),(-1.11,0.9523),(-1.22,0.9510),(-1.05,0.9511),(-0.95,0.9514),(-0.91,0.9520),(-0.85,0.9533),(-0.81,0.9509),(-0.71,0.9538),(-0.98,0.9477),(-0.88,0.9480),(-0.78,0.9449),(-0.74,0.9442),(-0.68,0.9452),(-0.65,0.9452),(-0.61,0.9489),(-0.55,0.9487),(-0.51,0.9476),(-0.48,0.9486),(-0.41,0.9498),(-0.34,0.9484),(-0.28,0.9483),(-0.24,0.9491),(-0.44,0.9458),(-0.31,0.9458),(-0.21,0.9455),(-0.38,0.9410),(-0.18,0.9413),(-0.14,0.9420),(-0.11,0.9422),(-0.08,0.9441),(-0.04,0.9470),(-0.01,0.9443),(0.02,0.9418),(0.06,0.9420),(0.09,0.9404),(0.12,0.9414),(0.16,0.9473),(0.19,0.9454),(0.23,0.9432),(0.26,0.9456),(0.33,0.9428),(0.36,0.9433),(0.39,0.9469),(0.43,0.9482),(0.46,0.9491),(0.49,0.9445),(0.53,0.9440),(0.56,0.9524),(0.63,0.9426),(0.70,0.9426),(0.66,0.9479),(0.73,0.9453),(0.76,0.9474),(0.80,0.9518),(0.83,0.9512),(0.86,0.9487),(0.90,0.9522),(0.93,0.9509),(0.97,0.9485),(1.00,0.9502),(1.03,0.9524),(1.07,0.9540),(1.10,0.9540),(1.13,0.9547),(1.16,0.9561),(1.20,0.9550),(1.23,0.9527),(1.27,0.9556),(1.30,0.9528),(1.34,0.9512),(1.37,0.9529),(1.40,0.9543),(1.43,0.9505),(1.47,0.9554),(1.50,0.9532),(1.53,0.9588),(1.57,0.9558),(1.60,0.9558),(1.64,0.9591),(1.67,0.9550),(1.70,0.9559),(1.74,0.9573),(1.77,0.9569),(1.80,0.9558),(1.84,0.9524),(1.87,0.9552),(1.91,0.9606),(1.94,0.9533),(1.97,0.9576),(-0.58,0.9393),(0.30,0.9359)]

lco_z = [(-1.30,0.9426),(-1.22,0.9422),(-1.10,0.9422),(-1.66,0.9422),(-1.79,0.9417),(-1.62,0.9410),(-1.46,0.9402),(-1.87,0.9399),(-1.91,0.9392),(-1.51,0.9392),(-1.38,0.9389),(-1.34,0.9387),(-1.06,0.9391),(-1.99,0.9382),(-1.96,0.9382),(-1.83,0.9379),(-1.54,0.9383),(-1.71,0.9375),(-1.14,0.9375),(-0.94,0.9378),(1.27,0.9476),(1.48,0.9480),(1.39,0.9460),(1.68,0.9441),(1.43,0.9433),(1.89,0.9432),(1.97,0.9438),(1.14,0.9417),(1.23,0.9419),(1.56,0.9398),(1.60,0.9391),(1.73,0.9389),(1.85,0.9398),(1.06,0.9378),(1.19,0.9377),(1.80,0.9374),(-1.75,0.9366),(-1.70,0.9374),(-1.58,0.9362),(-1.42,0.9366),(-1.26,0.9331),(-1.18,0.9368),(-1.02,0.9369),(-0.98,0.9356),(-0.89,0.9342),(-0.85,0.9353),(-0.81,0.9335),(-0.77,0.9322),(-0.73,0.9324),(-0.69,0.9309),(-0.65,0.9330),(-0.61,0.9295),(-0.57,0.9304),(-0.53,0.9296),(-0.49,0.9324),(-0.45,0.9298),(-0.41,0.9304),(-0.36,0.9289),(-0.32,0.9305),(-0.28,0.9298),(-0.24,0.9329),(-0.20,0.9295),(-0.16,0.9300),(-0.13,0.9349),(-0.08,0.9260),(-0.04,0.9294),(0.00,0.9339),(0.04,0.9331),(0.08,0.9315),(0.20,0.9284),(0.25,0.9302),(0.29,0.9295),(0.33,0.9257),(0.38,0.9343),(0.42,0.9369),(0.46,0.9247),(0.50,0.9313),(0.59,0.9334),(0.63,0.9316),(0.67,0.9326),(0.71,0.9361),(0.75,0.9352),(0.79,0.9343),(0.84,0.9329),(0.88,0.9340),(0.93,0.9343),(0.97,0.9363),(1.01,0.9325),(1.10,0.9331),(1.31,0.9302),(1.52,0.9334),(1.64,0.9369),(1.77,0.9340),(1.81,0.9373),(1.93,0.9342)]

msu_clear = [(-1.93,0.9279),(-1.89,0.9268),(-1.99,0.9260),(-1.95,0.9259),(-1.98,0.9245),(-1.99,0.9248),(-1.91,0.9218),(-1.86,0.9205),(-1.88,0.9260),(-1.85,0.9246),(-1.83,0.9256),(-1.81,0.9263),(-1.79,0.9253),(-1.77,0.9250),(-1.76,0.9245),(-1.74,0.9233),(-1.71,0.9242),(-1.68,0.9256),(-1.66,0.9235),(-1.65,0.9243),(-1.63,0.9247),(-1.62,0.9275),(-1.60,0.9284),(-1.58,0.9263),(-1.56,0.9274),(-1.54,0.9259),(-1.52,0.9258),(-1.51,0.9240),(-1.49,0.9278),(-1.47,0.9233),(-1.44,0.9229),(-1.42,0.9268),(-1.40,0.9253),(-1.38,0.9231),(-1.37,0.9259),(-1.35,0.9264),(-1.32,0.9231),(-1.30,0.9233),(-1.28,0.9236),(-1.25,0.9255),(-1.23,0.9263),(-1.20,0.9252),(-1.19,0.9260),(-1.17,0.9226),(-1.15,0.9238),(-1.14,0.9244),(-1.12,0.9240),(-1.10,0.9242),(-1.08,0.9253),(-1.07,0.9236),(-1.05,0.9203),(-1.03,0.9226),(-1.01,0.9229),(-0.99,0.9229),(-0.98,0.9217),(-0.96,0.9229),(-0.94,0.9207),(-0.92,0.9218),(-0.91,0.9191),(-0.89,0.9192),(-0.87,0.9192),(-0.85,0.9230),(-0.69,0.9214),(-0.67,0.9201),(-0.64,0.9179),(-0.66,0.9159)]

# EXOFASTv2 model curves, right panel
model_tess_r_t = [-2.0, -1.31, -1.20, -1.10, -1.00, -0.90, -0.80, -0.70, -0.60, -0.50, -0.40, -0.30, 0.0,
                  0.30, 0.40, 0.50, 0.60, 0.70, 0.80, 0.90, 1.00, 1.10, 1.20, 1.31, 2.0]
model_tess_r_f = [1.0, 1.0, 0.9996, 0.9987, 0.9974, 0.9957, 0.9943, 0.9930, 0.9918, 0.9909, 0.9902, 0.9898, 0.9896,
                  0.9898, 0.9902, 0.9909, 0.9918, 0.9930, 0.9943, 0.9957, 0.9974, 0.9987, 0.9996, 1.0, 1.0]
model_gnd_r_t = [-2.0, -1.26, -1.16, -1.02, -0.89, -0.75, -0.62, -0.49, -0.22, 0.0, 0.20, 0.45, 0.58, 0.71, 0.84, 0.97, 1.10, 1.18, 1.24, 2.0]
model_v390_f = [0.9850, 0.9850, 0.9843, 0.9825, 0.9801, 0.9776, 0.9758, 0.9750, 0.9745, 0.9744, 0.9745, 0.9750, 0.9758, 0.9778, 0.9801, 0.9826, 0.9843, 0.9848, 0.9850, 0.9850]
model_opm_f = [0.9700, 0.9700, 0.9694, 0.9676, 0.9652, 0.9629, 0.9609, 0.9600, 0.9595, 0.9594, 0.9595, 0.9600, 0.9612, 0.9630, 0.9655, 0.9678, 0.9692, 0.9697, 0.9700, 0.9700]
model_caou_r_f = [0.9550, 0.9550, 0.9544, 0.9527, 0.9503, 0.9480, 0.9460, 0.9449, 0.9445, 0.9444, 0.9445, 0.9448, 0.9462, 0.9480, 0.9502, 0.9527, 0.9543, 0.9548, 0.9550, 0.9550]
model_lco_f = [0.9400, 0.9400, 0.9393, 0.9376, 0.9352, 0.9331, 0.9315, 0.9308, 0.9302, 0.9301, 0.9302, 0.9310, 0.9323, 0.9342, 0.9366, 0.9386, 0.9395, 0.9399, 0.9400, 0.9400]
model_msu_f = [0.9250, 0.9250, 0.9246, 0.9231, 0.9211, 0.9189, 0.9170, 0.9156, 0.9148, 0.9147, 0.9148, 0.9156, 0.9172, 0.9191, 0.9213, 0.9235, 0.9244, 0.9248, 0.9250, 0.9250]

SERIF = ['Liberation Serif', 'DejaVu Serif']


def dibujar_panel(ax, conjuntos, modelos, titulo, y_titulo, periodo, xlim, ylim, xticks, yticks, xfmt):
    for datos, color, etiqueta in conjuntos:
        arr = np.array(datos)
        ax.scatter(arr[:, 0], arr[:, 1], s=27, c=color, alpha=0.5,
                   edgecolors='black', linewidths=0.8, label=etiqueta, zorder=2)
    for i, (tm, fm) in enumerate(modelos):
        ax.plot(tm, fm, color='red', lw=1.0, zorder=3,
                label='EXOFASTv2' if i == 0 else None)

    ax.set_xlim(*xlim)
    ax.set_ylim(*ylim)
    ax.set_xticks(xticks)
    ax.set_yticks(yticks)
    ax.set_xticklabels([xfmt % v for v in xticks])
    ax.set_yticklabels(['%.2f' % v for v in yticks])
    ax.tick_params(direction='inout', length=8, width=1, top=True, right=True,
                   labelsize=9.5)
    ax.set_xlabel('Time Since Conjunction [Hours]', family=SERIF, fontsize=15, labelpad=1)

    ax.text(0.0, y_titulo, titulo, ha='center', va='baseline', family=SERIF, fontsize=15)
    ax.legend(loc='lower left', scatterpoints=3, scatteryoffsets=[0.5], markerscale=1.8,
              fontsize=8.6, fancybox=False, edgecolor='black', framealpha=1,
              borderaxespad=0.35, handletextpad=0.7, labelspacing=0.5)
    ax.text(0.969, 0.014, periodo, transform=ax.transAxes, ha='right', va='bottom',
            family=SERIF, fontsize=15,
            bbox=dict(boxstyle='round,pad=0.3', fc='white', ec='black', lw=1))


fig = plt.figure(figsize=(12.27, 9.36), dpi=100)
ax1 = fig.add_axes([0.0554, 0.0459, 0.423, 0.9421])
ax2 = fig.add_axes([0.5623, 0.0459, 0.423, 0.9411])

conj_l = [(tess_l, 'orange', 'TESS'), (owl_r, 'dodgerblue', 'OWL R'),
          (waffelow_g, 'gray', "Waffelow Creek g'"), (waffelow_i, 'purple', "Waffelow Creek i'"),
          (caou_l, 'green', "Observatori de Ca l'Ou B"), (master_b, 'yellow', 'MASTER-Ural B'),
          (crcao_r, 'cyan', 'CRCAO R')]
mod_l = [(model_tess_l_t, model_tess_l_f), (model_gnd_l_t, model_owl_f), (model_gnd_l_t, model_wg_f),
         (model_gnd_l_t, model_wi_f), (model_gnd_l_t, model_caou_l_f), (model_gnd_l_t, model_master_f),
         (model_gnd_l_t, model_crcao_f)]
dibujar_panel(ax1, conj_l, mod_l, 'TOI-2152 b', 0.9992, 'P = 3.38 days', (-3, 3), (0.88, 1.0039),
              [-3, -2, -1, 0, 1, 2, 3], [0.88, 0.90, 0.92, 0.94, 0.96, 0.98, 1.00], '%d')
ax1.set_ylabel('Normalized Flux', family=SERIF, fontsize=15)
ax1.yaxis.set_label_coords(-0.079, 0.5)

conj_r = [(tess_r, 'orange', 'TESS'), (v390m4_i, 'dodgerblue', 'V390m4 I'),
          (opm_z, 'gray', "OPM z'"), (caou_r, 'purple', "Observatori de Ca l'Ou B"),
          (lco_z, 'green', "LCO McD z'"), (msu_clear, 'yellow', 'MSU Clear')]
mod_r = [(model_tess_r_t, model_tess_r_f), (model_gnd_r_t, model_v390_f), (model_gnd_r_t, model_opm_f),
         (model_gnd_r_t, model_caou_r_f), (model_gnd_r_t, model_lco_f), (model_gnd_r_t, model_msu_f)]
dibujar_panel(ax2, conj_r, mod_r, 'TOI-2154 b', 0.9993, 'P = 3.82 days', (-2, 2), (0.90, 1.0038),
              [-2.0, -1.5, -1.0, -0.5, 0.0, 0.5, 1.0, 1.5, 2.0], [0.90, 0.92, 0.94, 0.96, 0.98, 1.00], '%.1f')
ax2.spines['right'].set_color('0.5')
ax2.spines['right'].set_linewidth(1.6)

fig.savefig('out.png', dpi=100)
